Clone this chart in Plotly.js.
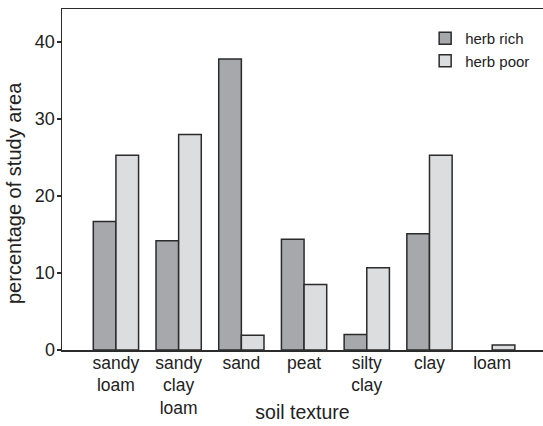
<!DOCTYPE html>
<html>
<head>
<meta charset="utf-8">
<script src="https://cdn.plot.ly/plotly-3.0.1.min.js"></script>
<style>
  html, body { margin: 0; padding: 0; background: #fff; }
  #chart { width: 543px; height: 426px; }
</style>
</head>
<body>
<div id="chart"></div>
<script>
// ---- data ----
var categories = ["sandy loam", "sandy clay loam", "sand", "peat", "silty clay", "clay", "loam"];
var tickLabels = ["sandy<br>loam", "sandy<br>clay<br>loam", "sand", "peat", "silty<br>clay", "clay", "loam"];
var seriesNames = ["herb rich", "herb poor"];
var herbRich = [16.7, 14.2, 37.8, 14.4, 2.0, 15.1, 0];
var herbPoor = [25.3, 28.0, 1.9, 8.5, 10.7, 25.3, 0.65];
var yTicks = [0, 10, 20, 30, 40];

var FONT = "Liberation Sans, Arial, Helvetica, sans-serif";
var INK = "#2b2b2b";

function outlineWidths(vals) {
  return vals.map(function (v) { return v > 0 ? 1.5 : 0; });
}

var traces = [
  {
    type: "bar", name: seriesNames[0], x: categories, y: herbRich,
    legendgroup: "a",
    marker: { color: "#a7a8ab", line: { color: INK, width: outlineWidths(herbRich) } }
  },
  {
    type: "bar", name: seriesNames[1], x: categories, y: herbPoor,
    legendgroup: "b",
    marker: { color: "#dcdddf", line: { color: INK, width: outlineWidths(herbPoor) } }
  }
];

var layout = {
  width: 543, height: 426,
  margin: { l: 62, r: 0, t: 9, b: 76, pad: 0 },
  paper_bgcolor: "#ffffff", plot_bgcolor: "#ffffff",
  font: { family: FONT, color: "#222222", size: 17 },
  barmode: "group",
  bargap: 0.278,
  bargroupgap: 0,
  showlegend: true,
  legend: {
    x: 0.755, y: 0.962, xanchor: "left", yanchor: "top",
    bgcolor: "rgba(0,0,0,0)", borderwidth: 0,
    font: { family: FONT, size: 15, color: "#222222" },
    tracegroupgap: 4,
    traceorder: "normal"
  },
  xaxis: {
    type: "category",
    range: [-0.86, 6.81],
    tickmode: "array",
    tickvals: categories,
    ticktext: tickLabels,
    ticks: "",
    ticklabelstandoff: -4,
    showline: true, linecolor: INK, linewidth: 1.5,
    mirror: true,
    showgrid: false, zeroline: false,
    tickfont: { family: FONT, size: 17.5, color: "#222222" },
    title: { text: "soil texture", font: { family: FONT, size: 19.5, color: "#222222" } },
    fixedrange: true
  },
  yaxis: {
    range: [0, 44.3],
    tickmode: "array",
    tickvals: yTicks,
    ticktext: yTicks.map(String),
    ticks: "outside", ticklen: 4, tickwidth: 1.5, tickcolor: INK,
    ticklabelstandoff: -2,
    showline: true, linecolor: INK, linewidth: 1.5,
    mirror: false,
    showgrid: false, zeroline: false,
    tickfont: { family: FONT, size: 18, color: "#222222" },
    title: {
      text: "percentage of study area&nbsp;&nbsp;&nbsp;&nbsp;&nbsp;",
      standoff: 8,
      font: { family: FONT, size: 20, color: "#222222" }
    },
    fixedrange: true
  }
};

Plotly.newPlot("chart", traces, layout, { staticPlot: true, displayModeBar: false });
</script>
</body>
</html>
